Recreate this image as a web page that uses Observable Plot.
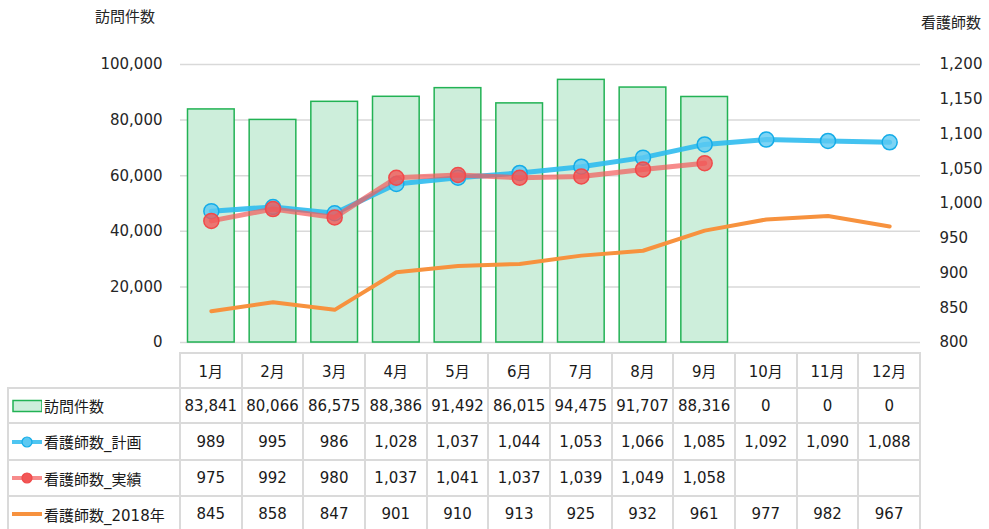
<!DOCTYPE html>
<html><head><meta charset="utf-8">
<script src="https://cdn.jsdelivr.net/npm/d3@7"></script>
<script src="https://cdn.jsdelivr.net/npm/@observablehq/plot@0.6"></script>
<style>
body{margin:0;background:#fff;font-family:"DejaVu Sans","Noto Sans CJK JP",sans-serif;}
#wrap{position:relative;width:989px;height:529px;overflow:hidden;background:#fff;}
#chart{position:absolute;left:0;top:0;}
.t{position:absolute;font-size:15px;color:#262626;white-space:nowrap;line-height:1;}
.cell{position:absolute;box-sizing:border-box;display:flex;align-items:center;justify-content:center;font-size:15px;color:#1a1a1a;white-space:nowrap;}
.lab{position:absolute;display:flex;align-items:center;font-size:15px;color:#1a1a1a;white-space:nowrap;}
.hl,.vl{position:absolute;background:#dadada;}
</style></head><body><div id="wrap"><div id="chart"></div></div>
<script>
const months = ["1月","2月","3月","4月","5月","6月","7月","8月","9月","10月","11月","12月"];
const visits = [83841,80066,86575,88386,91492,86015,94475,91707,88316,0,0,0];
const planNurses = [989,995,986,1028,1037,1044,1053,1066,1085,1092,1090,1088];
const actualNurses = [975,992,980,1037,1041,1037,1039,1049,1058,null,null,null];
const nurses2018 = [845,858,847,901,910,913,925,932,961,977,982,967];
const seriesNames = ["訪問件数","看護師数_計画","看護師数_実績","看護師数_2018年"];
const leftTitle = "訪問件数";
const rightTitle = "看護師数";
const leftTicks = [0,20000,40000,60000,80000,100000];
const rightTicks = [800,850,900,950,1000,1050,1100,1150,1200];

const fmt = d3.format(",");
// right axis (800–1200) mapped onto left scale (0–100000)
const toLeft = v => (v - 800) * 250;
const fromLeft = v => v / 250 + 800;

const C = {
  barFill:"#cdeedb", barStroke:"#22b254",
  plan:"#2fbbee", planDot:"#5cc9f2", planDotStroke:"#14ace8",
  act:"#f45a5a", actDot:"#f25656", actDotStroke:"#f04a4a",
  old:"#f7923e"
};

const idx = months.map((_, i) => i);
const chart = Plot.plot({
  width: 989, height: 352,
  marginLeft: 180, marginRight: 69, marginTop: 64, marginBottom: 10,
  style: {fontFamily: '"DejaVu Sans","Noto Sans CJK JP",sans-serif', fontSize: "15px", color: "#262626", background: "transparent", overflow: "visible"},
  x: {domain: months, padding: 0, round: false, axis: null},
  y: {domain: [0, 100000]},
  marks: [
    Plot.ruleY(leftTicks, {stroke: "#d9d9d9", strokeWidth: 1.5}),
    Plot.axisY(leftTicks, {anchor: "left", tickSize: 0, tickPadding: 18, tickFormat: fmt, label: null, fontSize: 15}),
    Plot.axisY(rightTicks.map(toLeft), {anchor: "right", tickSize: 0, tickPadding: 19, tickFormat: d => fmt(fromLeft(d)), label: null, fontSize: 15}),
    Plot.barY(idx.filter(i => visits[i] > 0), {x: i => months[i], y: i => visits[i], fill: C.barFill, stroke: C.barStroke, strokeWidth: 1.5, insetLeft: 7.5, insetRight: 7.5}),
    Plot.line(idx, {x: i => months[i], y: i => toLeft(nurses2018[i]), stroke: C.old, strokeWidth: 4, strokeLinecap: "round"}),
    Plot.line(idx, {x: i => months[i], y: i => toLeft(planNurses[i]), stroke: C.plan, strokeWidth: 5, strokeOpacity: 0.9, strokeLinecap: "round"}),
    Plot.dot(idx, {x: i => months[i], y: i => toLeft(planNurses[i]), r: 7.5, fill: C.planDot, fillOpacity: 0.8, stroke: C.planDotStroke, strokeWidth: 1.5}),
    Plot.line(idx.filter(i => actualNurses[i] != null), {x: i => months[i], y: i => toLeft(actualNurses[i]), stroke: C.act, strokeWidth: 5, strokeOpacity: 0.7, strokeLinecap: "round"}),
    Plot.dot(idx.filter(i => actualNurses[i] != null), {x: i => months[i], y: i => toLeft(actualNurses[i]), r: 7.5, fill: C.actDot, fillOpacity: 0.8, stroke: C.actDotStroke, strokeWidth: 1.5})
  ]
});
document.getElementById("chart").appendChild(chart);

const wrap = document.getElementById("wrap");
function add(cls, css, html) {
  const d = document.createElement("div");
  d.className = cls;
  Object.assign(d.style, css);
  if (html != null) d.innerHTML = html;
  wrap.appendChild(d);
  return d;
}
// titles
add("t", {left: "95px", top: "10px"}, leftTitle);
add("t", {left: "921px", top: "16px"}, rightTitle);

// data table
const xs = chart.scale("x");
const bw = xs.bandwidth;
const x0 = xs.apply(months[0]);
const x1 = xs.apply(months[months.length - 1]) + bw;
const rowTops = [353, 388, 423, 460, 496];
const rowBottom = 532;
const labelLeft = 8;
const lw = 2;

// horizontal lines
add("hl", {left: x0 + "px", top: (rowTops[0] - 1) + "px", width: (x1 - x0 + 1) + "px", height: lw + "px"});
rowTops.slice(1).forEach(t => add("hl", {left: labelLeft + "px", top: (t - 1) + "px", width: (x1 - labelLeft + 1) + "px", height: lw + "px"}));
// vertical lines
add("vl", {left: (labelLeft - 1) + "px", top: (rowTops[1] - 1) + "px", width: lw + "px", height: (rowBottom - rowTops[1]) + "px"});
months.forEach(m => add("vl", {left: (xs.apply(m) - 1) + "px", top: (rowTops[0] - 1) + "px", width: lw + "px", height: (rowBottom - rowTops[0]) + "px"}));
add("vl", {left: (x1 - 1) + "px", top: (rowTops[0] - 1) + "px", width: lw + "px", height: (rowBottom - rowTops[0]) + "px"});

const rows = [visits, planNurses, actualNurses, nurses2018];
const rowH = i => (i + 1 < rowTops.length ? rowTops[i + 1] : rowBottom) - rowTops[i];
// header
months.forEach(m => add("cell", {left: xs.apply(m) + "px", top: rowTops[0] + "px", width: bw + "px", height: rowH(0) + "px"}, m));
rows.forEach((vals, r) => {
  const top = rowTops[r + 1], h = rowH(r + 1);
  vals.forEach((v, i) => add("cell", {left: xs.apply(months[i]) + "px", top: top + "px", width: bw + "px", height: h + "px"}, v == null ? "" : fmt(v)));
});

// legend swatches + labels
const sw = [
  `<svg width="34" height="20"><rect x="5" y="4.5" width="29" height="11" fill="${C.barFill}" stroke="${C.barStroke}" stroke-width="1.5"/></svg>`,
  `<svg width="34" height="20"><line x1="4" x2="34" y1="10" y2="10" stroke="${C.plan}" stroke-width="4" stroke-opacity="0.85"/><circle cx="19" cy="10" r="5" fill="${C.planDot}" stroke="${C.planDotStroke}" stroke-width="1.2"/></svg>`,
  `<svg width="34" height="20"><line x1="4" x2="34" y1="10" y2="10" stroke="${C.act}" stroke-width="4" stroke-opacity="0.7"/><circle cx="19" cy="10" r="5" fill="${C.actDot}" stroke="${C.actDotStroke}" stroke-width="1.2"/></svg>`,
  `<svg width="34" height="20"><line x1="4" x2="34" y1="10" y2="10" stroke="${C.old}" stroke-width="4"/></svg>`
];
seriesNames.forEach((name, r) => {
  const top = rowTops[r + 1], h = rowH(r + 1);
  add("lab", {left: labelLeft + "px", top: top + "px", height: h + "px"}, sw[r] + `<span style="margin-left:2px">${name}</span>`);
});
</script>
</body></html>
